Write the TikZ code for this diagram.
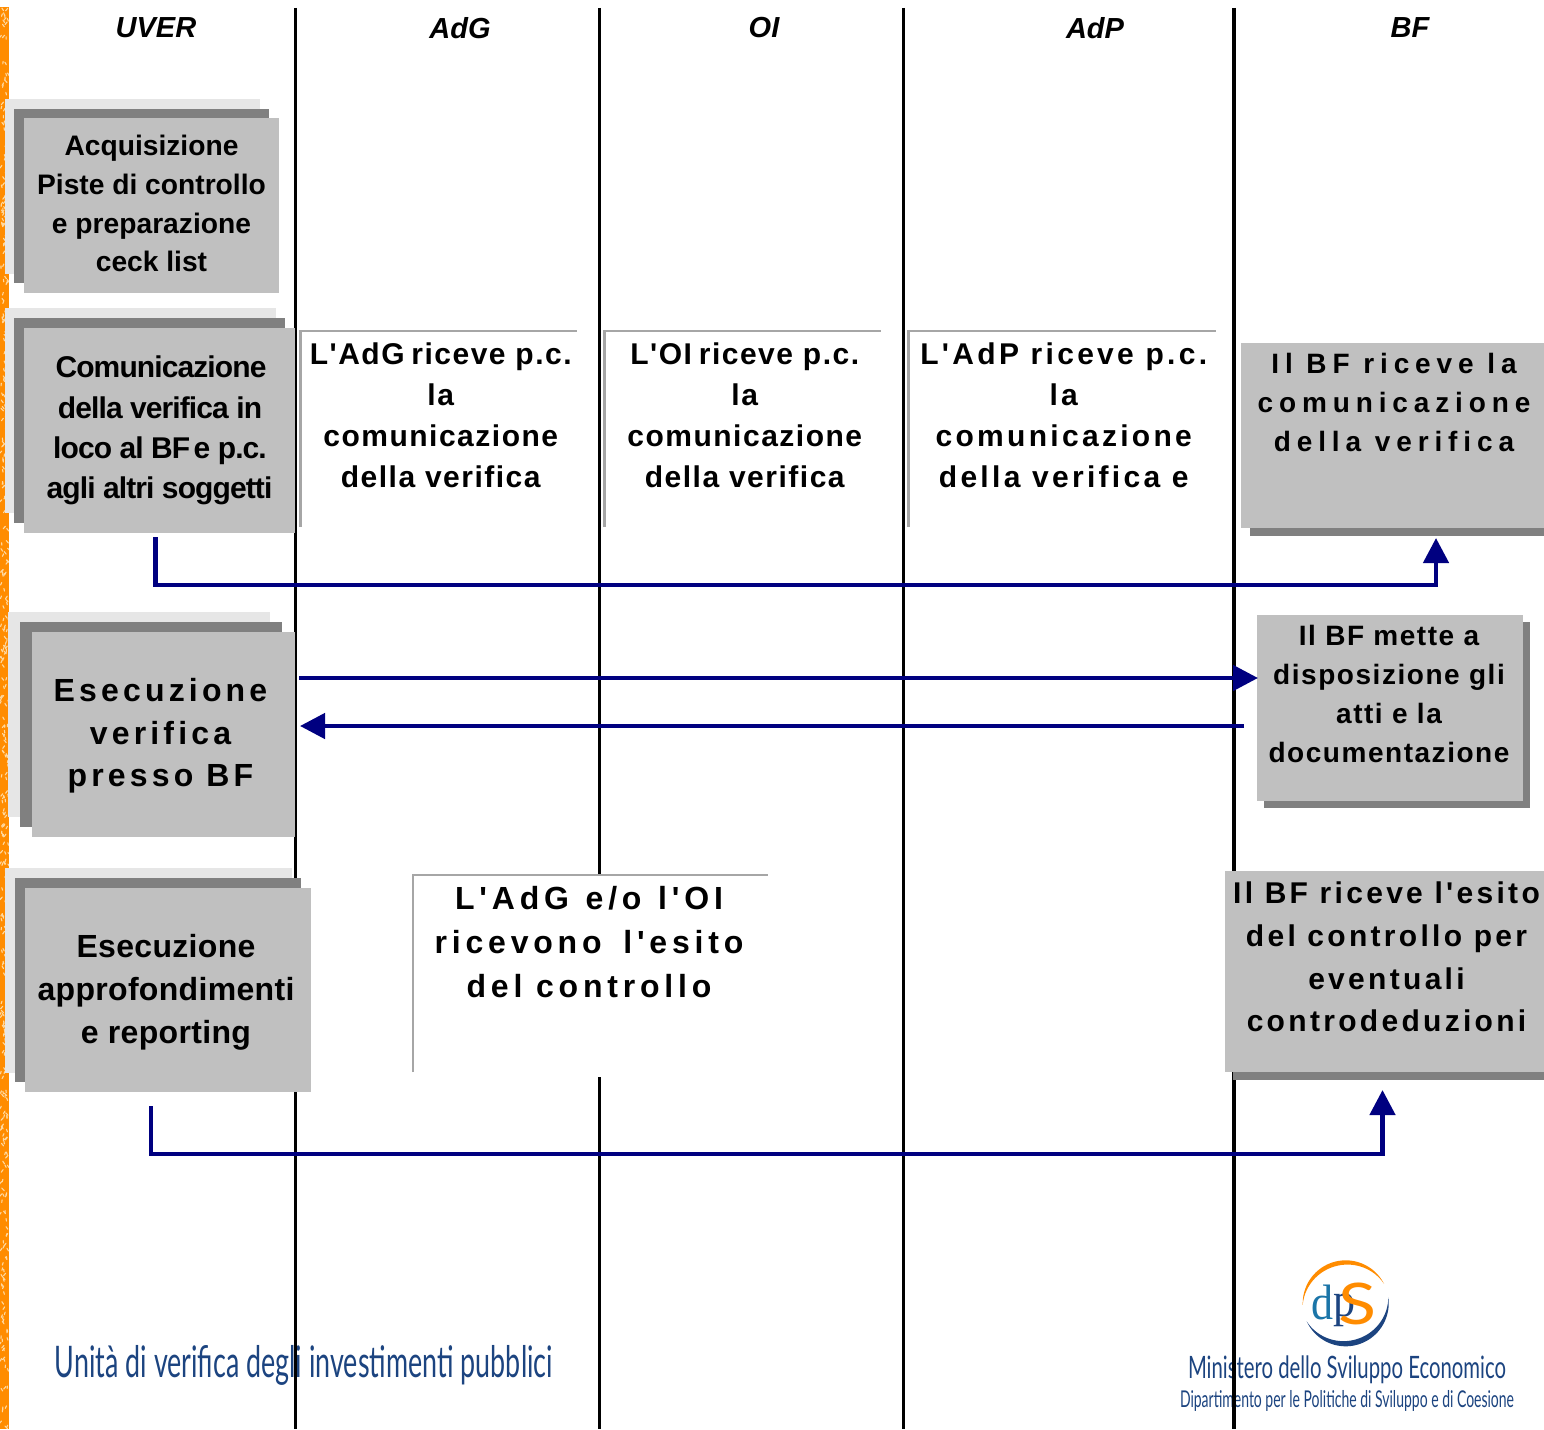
\documentclass[tikz,border=0pt]{standalone}
\usepackage{fontspec}
\usetikzlibrary{arrows.meta,calc}
\setmainfont{Liberation Sans}
\newfontfamily\lsneg[LetterSpace=-3]{Liberation Sans}
\newfontfamily\lsone[LetterSpace=1]{Liberation Sans}
\newfontfamily\lsfive[LetterSpace=5]{Liberation Sans}
\newfontfamily\lssix[LetterSpace=5.5]{Liberation Sans}
\newfontfamily\lseleven[LetterSpace=11]{Liberation Sans}
\newfontfamily\lsten[LetterSpace=11]{Liberation Sans}
\newfontfamily\lsthirteen[LetterSpace=13]{Liberation Sans}
\newfontfamily\lsfifteen[LetterSpace=15]{Liberation Sans}
\newfontfamily\lstwenty[LetterSpace=21]{Liberation Sans}
\newcommand{\pushup}[1]{\rule[-#1pt]{0pt}{#1pt}}
\newcommand{\pushdown}[1]{\rule{0pt}{#1pt}}
\newcommand{\nudge}[1]{\leavevmode\hbox to #1pt{}}
\definecolor{boxgray}{HTML}{C0C0C0}
\definecolor{shadowdark}{HTML}{808080}
\definecolor{shadowlight}{HTML}{E6E6E6}
\definecolor{notegray}{HTML}{A6A6A6}
\definecolor{arrownavy}{HTML}{000080}
\definecolor{stripe}{HTML}{FF8C00}
\definecolor{speck}{HTML}{FFD9A0}
\definecolor{logoblue}{HTML}{1C4480}
\definecolor{logoteal}{HTML}{1B75A8}
\tikzset{
  lane/.style={line width=3.2pt,black},
  head/.style={font=\fontsize{29}{34}\selectfont\bfseries\itshape,inner sep=0},
  mainbox/.style={fill=boxgray,anchor=north west,align=center,inner sep=0,outer sep=0,text=black},
  notebox/.style={fill=white,anchor=north west,align=center,inner sep=0,outer sep=0,text=black},
  noteedge/.style={notegray,line width=2.5pt},
  lt/.style={fill=shadowlight},
  dk/.style={fill=shadowdark},
  flow/.style={arrownavy,line width=4.6pt,-{Triangle[length=25pt,width=25pt]}},
  brand/.style={inner sep=0,text=logoblue},
}
\begin{document}
\begin{tikzpicture}[x=1pt,y=-1pt]
\useasboundingbox (0,0) rectangle (1544,1429);
\fill[white] (0,0) rectangle (1544,1429);
% orange stripe
\fill[stripe] (0,7) rectangle (9,1429);
\pgfmathsetseed{7}
\foreach \i in {1,...,420}{
  \pgfmathsetmacro\yy{rnd*1420+8}
  \pgfmathsetmacro\xx{rnd*7+1}
  \pgfmathsetmacro\dd{(rnd-0.5)*5}
  \draw[speck,line width=1.1pt,line cap=round] (\xx,\yy) -- (\xx+\dd,\yy+2.5);
}
\fill[white] (9,0) rectangle (14,1429);
% logos
\node[brand,font=\fontspec{Lato}] (uvlogo) at (304,1365) {\resizebox*{498pt}{40pt}{Unità di verifica degli investimenti pubblici}};
\fill[stripe] plot[domain=182:27,samples=50] ({1345.7+43*cos(\x)},{1303.3-43*sin(\x)})
  -- plot[domain=27:182,samples=50] ({1345.7+(43-4.5*sin((\x-27)/155*180))*cos(\x)},{1303.3-(43-4.5*sin((\x-27)/155*180))*sin(\x)}) -- cycle;
\fill[logoblue] plot[domain=205:368,samples=50] ({1345.7+43*cos(\x)},{1303.3-43*sin(\x)})
  -- plot[domain=368:205,samples=50] ({1345.7+(43-5.5*sin((\x-205)/163*180))*cos(\x)},{1303.3-(43-5.5*sin((\x-205)/163*180))*sin(\x)}) -- cycle;
\node[inner sep=0,text=logoteal] (dlogo) at (1322.5,1302.5) {\resizebox*{22pt}{35pt}{\fontspec{Liberation Serif}d}};
\node[inner sep=0,text=logoblue] (plogo) at (1344,1310) {\resizebox*{22pt}{33pt}{\fontspec{Liberation Serif}p}};
\node[inner sep=0,text=stripe] (slogo) at (1357,1304) {\resizebox*{38pt}{42pt}{\fontspec{Lato}S}};
\node[brand,font=\fontspec{Lato}] (mise) at (1347,1370) {\resizebox*{318pt}{28pt}{Ministero dello Sviluppo Economico}};
\node[brand,font=\fontspec{Lato}] (dipart) at (1347,1400.5) {\resizebox*{334pt}{21pt}{Dipartimento per le Politiche di Sviluppo e di Coesione}};
% lanes
\coordinate (la) at (295.4,8); \coordinate (lb) at (599.4,8); \coordinate (lc) at (903.4,8); \coordinate (ld) at (1234,8);
\draw[lane] (la) -- (295.4,1429);
\draw[lane] (lb) -- (599.4,1429);
\draw[lane] (lc) -- (903.4,1429);
\draw[lane] (ld) -- (1234,1429);
% headers
\node[head] (huver) at (156,28) {UVER};
\node[head] (hadg) at (460,28) {AdG};
\node[head] (hoi) at (764,28) {OI};
\node[head] (hadp) at (1095,28) {AdP};
\node[head] (hbf) at (1410,28) {BF};
% box 1
\fill[lt] (5,99) rectangle (260,274);
\fill[dk] (14,109) rectangle (269,283);
\node[mainbox,minimum width=255pt,minimum height=175pt,font=\fontsize{28.2}{38.8}\selectfont\bfseries] (acq) at (24,118) {Acquisizione\\Piste di controllo\\e preparazione\\ceck list\pushup{4}};
% box 2
\fill[lt] (5,308) rectangle (276,513);
\fill[dk] (14,318) rectangle (285,523);
\node[mainbox,minimum width=271pt,minimum height=205pt,font=\fontsize{30}{40.3}\lsneg\bfseries] (comm) at (24,328) {\nudge{3}Comunicazione\\\nudge{1}della verifica in\\\nudge{1}loco al BF\kern-4pt\ e p.c.\\agli altri soggetti\pushup{6}};
% box 3
\fill[lt] (8,612) rectangle (270,817);
\fill[dk] (20,622) rectangle (282,827);
\node[mainbox,minimum width=263pt,minimum height=205pt,font=\fontsize{32}{42.7}\lsthirteen\bfseries] (esec) at (32,632) {\pushdown{26}Esecuzione\nudge{6}\\verifica\nudge{6}\\presso BF\nudge{6}};
% box 4
\fill[lt] (5,868) rectangle (292,1073);
\fill[dk] (15,878) rectangle (301,1082);
\node[mainbox,minimum width=286pt,minimum height=204pt,font=\fontsize{32}{43}\lsone\bfseries] (appr) at (25,888) {\pushdown{28}Esecuzione\nudge{4}\\approfondimenti\nudge{4}\\e reporting\nudge{4}};
% notes
\node[notebox,minimum width=276.5pt,minimum height=196pt,font=\fontsize{30}{41}\lsfive\bfseries] (nadg) at (300.5,331) {\nudge{4}L'AdG\kern-3pt\ riceve p.c.\\\nudge{4}la\\\nudge{4}comunicazione\\\nudge{4}della verifica\pushup{27}};
\node[notebox,minimum width=276.5pt,minimum height=196pt,font=\fontsize{30}{41}\lsfive\bfseries] (noi) at (604.5,331) {\nudge{4}L'OI\kern-3pt\ riceve p.c.\\\nudge{4}la\\\nudge{4}comunicazione\\\nudge{4}della verifica\pushup{27}};
\node[notebox,minimum width=307.5pt,minimum height=196pt,font=\fontsize{30}{41}\lseleven\bfseries] (nadp) at (908.5,331) {\nudge{3}L'AdP riceve p.c.\\\nudge{3}la\\\nudge{3}comunicazione\\\nudge{3}della verifica e\pushup{27}};
\node[notebox,minimum width=355pt,minimum height=202pt,font=\fontsize{32}{44}\lsfifteen\bfseries] (nesito) at (413,875) {L'AdG\kern3pt\ e/o\kern3pt\ l'OI\nudge{3}\\ricevono\kern8pt\ l'esito\nudge{3}\\del controllo\nudge{3}\pushup{68}};
\draw[noteedge] (nadg.south west) |- (nadg.north east);
\draw[noteedge] (noi.south west) |- (noi.north east);
\draw[noteedge] (nadp.south west) |- (nadp.north east);
\draw[noteedge] ($(nesito.south west)+(0,-5)$) |- (nesito.north east);
% BF boxes
\fill[dk] (1250,351) rectangle (1544,536);
\node[mainbox,minimum width=303pt,minimum height=185pt,font=\fontsize{28}{39}\lstwenty\bfseries] (bfa) at (1241,343) {\nudge{3}Il BF riceve la\\\nudge{3}comunicazione\\\nudge{3}della verifica\pushup{66}};
\fill[dk] (1264,622) rectangle (1530,808);
\node[mainbox,minimum width=266pt,minimum height=186pt,font=\fontsize{28}{39}\lssix\bfseries] (bfb) at (1257,615) {Il BF mette a\nudge{2}\\disposizione gli\nudge{2}\\atti e la\nudge{2}\\documentazione\nudge{2}\pushup{28}};
\fill[dk] (1233,879) rectangle (1544,1080);
\node[mainbox,minimum width=319pt,minimum height=201pt,font=\fontsize{30}{42.7}\lsten\bfseries] (bfc) at (1225,871) {\nudge{4}Il BF riceve l'esito\\\nudge{4}del controllo per\\\nudge{4}eventuali\\\nudge{4}controdeduzioni\pushup{29}};
% connectors
\draw[flow] ($(comm.south)+(-4,4)$) |- ($(bfa.south)+(43.5,57)$) -- ($(bfa.south)+(43.5,10)$);
\draw[flow] ($(esec.east)+(4,-56.5)$) -- ($(bfb.west)+(1,-30)$);
\draw[flow] ($(bfb.west)+(-13,18)$) -- ($(esec.east)+(5,-8.5)$);
\draw[flow] ($(appr.south)+(-17,14)$) |- ($(bfc.south)+(-2,82)$) -- ($(bfc.south)+(-2,18)$);
\end{tikzpicture}
\end{document}
